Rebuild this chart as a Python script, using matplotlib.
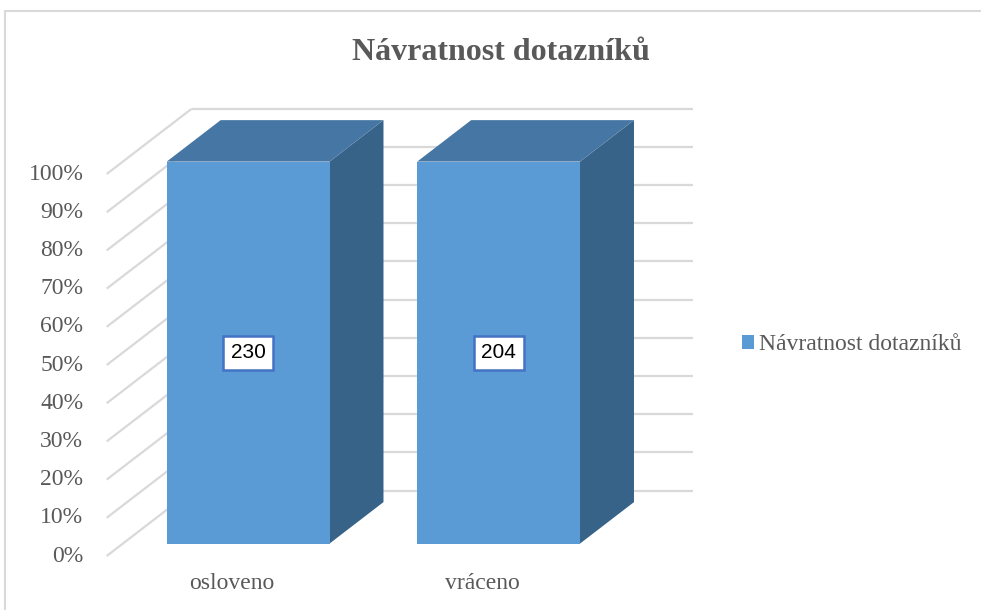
import matplotlib
matplotlib.use("Agg")
import matplotlib.pyplot as plt
from matplotlib.patches import Polygon, Rectangle, Patch

# data
categories = ["osloveno", "vráceno"]
values = [230, 204]
series_name = "Návratnost dotazníků"
title = "Návratnost dotazníků"
y_ticks = [0, 10, 20, 30, 40, 50, 60, 70, 80, 90, 100]
y_tick_labels = [f"{t}%" for t in y_ticks]

W, H = 981, 610
FRONT = "#5B9BD5"
TOP = "#4677A4"
SIDE = "#386389"
GRID = "#D9D9D9"
TXT = "#595959"
SERIF = ["Liberation Serif", "DejaVu Serif"]

# oblique depth offset (data units for full depth)
DX = 85 / 250.5
DY = 17.1
bar_w = 0.65
z0, z1 = 0.19, 0.825


def proj(x, y, z):
    return (x + z * DX, y + z * DY)


fig = plt.figure(figsize=(W / 100, H / 100), dpi=100)
ax = fig.add_axes([106.7 / W, (H - 556) / H, 586 / W, 447.3 / H])
ax.set_xlim(-0.5, 1.5 + DX)
ax.set_ylim(0, 100 + DY)
ax.axis("off")

# walls: back gridlines + left side diagonals
for t in y_ticks:
    a, b = proj(-0.5, t, 1), proj(len(categories) - 0.5, t, 1)
    ax.plot([a[0], b[0]], [a[1], b[1]], color=GRID, lw=1.6, zorder=1,
            solid_capstyle="butt", clip_on=False)
    c = proj(-0.5, t, 0)
    ax.plot([c[0], a[0]], [c[1], a[1]], color=GRID, lw=1.6, zorder=1,
            solid_capstyle="butt", clip_on=False)

# 100% stacked, single series -> every bar full height
for i, v in enumerate(values):
    pct = 100 * v / values[i]
    x0, x1 = i - bar_w / 2, i + bar_w / 2
    front = [proj(x0, 0, z0), proj(x1, 0, z0), proj(x1, pct, z0), proj(x0, pct, z0)]
    top = [proj(x0, pct, z0), proj(x1, pct, z0), proj(x1, pct, z1), proj(x0, pct, z1)]
    side = [proj(x1, 0, z0), proj(x1, 0, z1), proj(x1, pct, z1), proj(x1, pct, z0)]
    ax.add_patch(Polygon(side, closed=True, fc=SIDE, ec="none", zorder=3))
    ax.add_patch(Polygon(top, closed=True, fc=TOP, ec="none", zorder=3))
    ax.add_patch(Polygon(front, closed=True, fc=FRONT, ec="none", zorder=4))

    lx, ly = proj(i, pct / 2, z0)
    ax.text(lx, ly, str(v), ha="center", va="center", fontsize=15,
            family=["Liberation Sans", "DejaVu Sans"], color="black", zorder=6,
            bbox=dict(boxstyle="square,pad=0.36", fc="white", ec="#4472C4", lw=1.8))

    ax.annotate(categories[i], (i, 0), xytext=(0, -19.5), textcoords="offset points",
                ha="center", va="center", fontsize=17, family=SERIF, color=TXT,
                annotation_clip=False)

for t, lab in zip(y_ticks, y_tick_labels):
    ax.annotate(lab, (-0.5, t), xytext=(-16.8, 0), textcoords="offset points",
                ha="right", va="center", fontsize=17, family=SERIF, color=TXT,
                annotation_clip=False)

fig.text(501 / W, 1 - 52 / H, title, ha="center", va="center", fontsize=23,
         fontweight="bold", family=SERIF, color=TXT)

leg = fig.legend(handles=[Patch(fc=FRONT, ec="none", label=series_name)],
                 loc="center left", bbox_to_anchor=(741.7 / W, 1 - 345 / H),
                 frameon=False, borderaxespad=0, borderpad=0,
                 handlelength=0.5, handleheight=0.5, handletextpad=0.25,
                 prop={"family": SERIF, "size": 17})
for txt in leg.get_texts():
    txt.set_color(TXT)

# chart area border (cropped on right/bottom)
fig.add_artist(Rectangle((4.5 / W, -0.1), 2, 1.1 - 11 / H, transform=fig.transFigure,
                         fill=False, ec=GRID, lw=1.5))

fig.savefig("out.png", dpi=100)
